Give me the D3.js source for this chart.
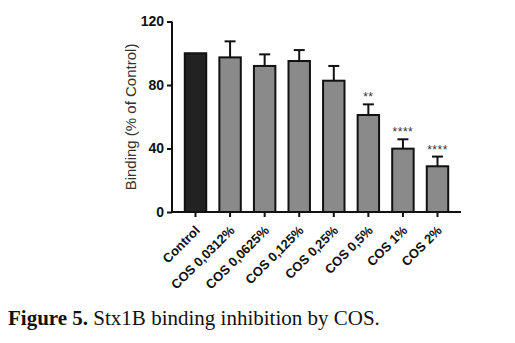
<!DOCTYPE html>
<html><head><meta charset="utf-8">
<script src="https://cdn.jsdelivr.net/npm/d3@7"></script>
<style>body{margin:0;background:#fff}svg{display:block}</style>
</head><body>
<svg id="c" width="515" height="343"></svg>
<script>
const categories = ["Control","COS 0,0312%","COS 0,0625%","COS 0,125%","COS 0,25%","COS 0,5%","COS 1%","COS 2%"];
const values = [100, 97.4, 92, 95.1, 82.7, 61.1, 39.9, 28.8];
const errors = [0, 10.1, 7.3, 6.9, 9.3, 6.7, 5.9, 6.1];
const stars = ["", "", "", "", "", "**", "****", "****"];
const yTicks = [0, 40, 80, 120];

const svg = d3.select("#c");
const x = d3.scaleBand().domain(categories).range([172, 461]).paddingInner(0.38).paddingOuter(0.37);
const y = d3.scaleLinear().domain([0, 120]).range([212, 21.5]);

// bars
svg.selectAll("rect.bar").data(values).join("rect")
  .attr("x", (d,i)=>x(categories[i]))
  .attr("y", d=>y(d))
  .attr("width", x.bandwidth())
  .attr("height", d=>y(0)-y(d))
  .attr("fill", (d,i)=> i===0 ? "#222222" : "#8a8a8a")
  .attr("stroke", "#111").attr("stroke-width", 2);

// error bars
const eg = svg.append("g").attr("stroke","#111").attr("stroke-width",2);
values.forEach((v,i)=>{
  if(!errors[i]) return;
  const cx = x(categories[i]) + x.bandwidth()/2;
  eg.append("line").attr("x1",cx).attr("x2",cx).attr("y1",y(v)).attr("y2",y(v+errors[i]));
  eg.append("line").attr("x1",cx-5.5).attr("x2",cx+5.5).attr("y1",y(v+errors[i])).attr("y2",y(v+errors[i]));
});

// stars
svg.selectAll("text.star").data(values).join("text")
  .attr("x",(d,i)=>x(categories[i]) + x.bandwidth()/2)
  .attr("y",(d,i)=>y(d+errors[i]) - 3)
  .attr("text-anchor","middle")
  .attr("font-family","Liberation Sans, Arial, sans-serif")
  .attr("font-size",12).attr("letter-spacing",0.5).attr("fill","#333")
  .text((d,i)=>stars[i]);

// y axis
const ya = svg.append("g").attr("transform","translate(172,0)")
  .call(d3.axisLeft(y).tickValues(yTicks).tickSize(5).tickPadding(3));
ya.select(".domain").attr("stroke","#111").attr("stroke-width",2).attr("d","M0,"+y(120)+"V"+y(0));
ya.selectAll(".tick line").attr("stroke","#111").attr("stroke-width",2);
ya.selectAll(".tick text").attr("font-family","Liberation Sans, Arial, sans-serif")
  .attr("font-size",14).attr("font-weight","bold").attr("fill","#111");

// x axis
const xa = svg.append("g").attr("transform","translate(0,212)")
  .call(d3.axisBottom(x).tickSize(5).tickSizeOuter(0));
xa.select(".domain").attr("stroke","#111").attr("stroke-width",2).attr("d","M171,0H461");
xa.selectAll(".tick line").attr("stroke","#111").attr("stroke-width",2);
xa.selectAll(".tick text").attr("font-family","Liberation Sans, Arial, sans-serif")
  .attr("font-size",13).attr("font-weight","bold").attr("fill","#111")
  .attr("text-anchor","end")
  .attr("transform","translate(2,16) rotate(-45)").attr("dy","0.35em").attr("y",0).attr("x",0);

// y label
svg.append("text").attr("transform","translate(135.5,117) rotate(-90)")
  .attr("text-anchor","middle")
  .attr("font-family","Liberation Sans, Arial, sans-serif")
  .attr("font-size",15).attr("fill","#333")
  .text("Binding (% of Control)");

// caption
const cap = svg.append("text").attr("x",8).attr("y",325)
  .attr("font-family","Liberation Serif, Times New Roman, serif").attr("font-size",21).attr("fill","#111");
cap.append("tspan").attr("font-weight","bold").text("Figure 5.");
cap.append("tspan").text(" Stx1B binding inhibition by COS.");
</script>
</body></html>
